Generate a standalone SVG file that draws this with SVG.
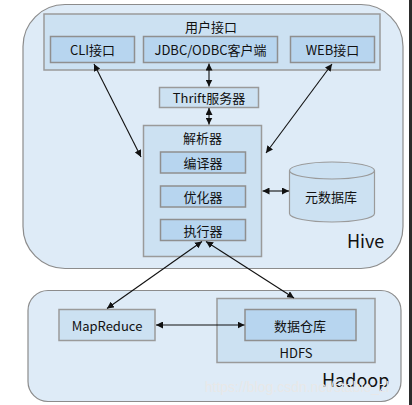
<svg xmlns="http://www.w3.org/2000/svg" width="412" height="405" viewBox="0 0 412 405">
<style>
text{font-family:"Noto Sans CJK SC","Noto Sans",sans-serif;fill:#111;text-anchor:middle;dominant-baseline:central}
.lbl{font-size:13px}
.big{font-size:18px;text-anchor:start;dominant-baseline:alphabetic}
.outer{fill:#deebf7;stroke:#8c8c8c;stroke-width:1.2}
.mid{fill:#cce1f2;stroke:#9a9a9a;stroke-width:1.5}
.inn{fill:#b7d5ef;stroke:#8f8f8f;stroke-width:1.5}
.con{stroke:#111;stroke-width:1.1;fill:none;marker-start:url(#ah);marker-end:url(#ah)}
</style>
<defs>
<marker id="ah" viewBox="0 0 10 10" refX="10" refY="5" markerWidth="7" markerHeight="7" markerUnits="userSpaceOnUse" orient="auto-start-reverse">
<path d="M0,0 L10,5 L0,10 z" fill="#111"/>
</marker>
</defs>
<rect x="0" y="0" width="412" height="405" fill="#ffffff"/>
<rect x="409" y="0" width="3" height="405" fill="#2b2b2b"/>

<g id="hive">
<rect class="outer" x="23" y="4.5" width="380" height="264" rx="42" ry="42"/>
<text class="big" x="347" y="248">Hive</text>
</g>
<g id="user-interface">
<rect class="mid" x="44" y="14" width="336" height="56"/>
<text class="lbl" x="211" y="26">用户接口</text>
</g>
<g id="cli">
<rect class="inn" x="50.5" y="36.5" width="84" height="26"/>
<text class="lbl" x="92.5" y="49.5">CLI接口</text>
</g>
<g id="jdbc">
<rect class="inn" x="143.5" y="36.5" width="134" height="26"/>
<text class="lbl" x="210.5" y="49.5">JDBC/ODBC客户端</text>
</g>
<g id="web">
<rect class="inn" x="290.5" y="36.5" width="84" height="26"/>
<text class="lbl" x="332.5" y="49.5">WEB接口</text>
</g>
<g id="thrift">
<rect class="mid" x="159.5" y="87.5" width="99" height="20"/>
<text class="lbl" x="209" y="97.5">Thrift服务器</text>
</g>
<g id="parser">
<rect class="mid" x="143.5" y="125.5" width="118" height="131"/>
<text class="lbl" x="202.5" y="137">解析器</text>
</g>
<g id="compiler">
<rect class="inn" x="160.5" y="152" width="85" height="21"/>
<text class="lbl" x="203" y="162.5">编译器</text>
</g>
<g id="optimizer">
<rect class="inn" x="160.5" y="186" width="85" height="21"/>
<text class="lbl" x="203" y="196.5">优化器</text>
</g>
<g id="executor">
<rect class="inn" x="160.5" y="219.5" width="85" height="21"/>
<text class="lbl" x="203" y="230">执行器</text>
</g>
<g id="metastore">
<path class="mid" d="M289.5,170.5 L289.5,213.5 A42.5,8.5 0 0 0 374.5,213.5 L374.5,170.5" style="stroke-width:1.2"/>
<ellipse class="mid" cx="332" cy="170.5" rx="42.5" ry="8.5" style="stroke-width:1.2"/>
<text class="lbl" x="331" y="196">元数据库</text>
</g>

<g id="hadoop">
<rect class="outer" x="28" y="290.5" width="373" height="111" rx="20" ry="20"/>
<text class="big" x="322" y="387">Hadoop</text>
</g>
<g id="mapreduce">
<rect class="mid" x="59" y="309.5" width="96" height="31"/>
<text class="lbl" x="107" y="325">MapReduce</text>
</g>
<g id="hdfs">
<rect class="mid" x="217" y="298.5" width="158" height="64"/>
<text class="lbl" x="296" y="352">HDFS</text>
</g>
<g id="warehouse">
<rect class="inn" x="245" y="309.5" width="111" height="31"/>
<text class="lbl" x="300" y="325">数据仓库</text>
</g>

<g id="connectors">
<line class="con" x1="94" y1="64" x2="141" y2="157"/>
<line class="con" x1="332" y1="64" x2="266" y2="153"/>
<line class="con" x1="209" y1="63.5" x2="209" y2="86.5"/>
<line class="con" x1="209" y1="108" x2="209" y2="124.5"/>
<line class="con" x1="262.5" y1="191" x2="289" y2="191"/>
<line class="con" x1="202" y1="241.5" x2="107" y2="308.5"/>
<line class="con" x1="206" y1="241.5" x2="294" y2="298"/>
<line class="con" x1="156" y1="325" x2="244.5" y2="325"/>
</g>

<text x="297" y="387" style="font-family:'Liberation Sans',sans-serif;font-size:14px;fill:#e8e8e8;text-anchor:middle;dominant-baseline:central">https://blog.csdn.net/stable_zl</text>
</svg>
